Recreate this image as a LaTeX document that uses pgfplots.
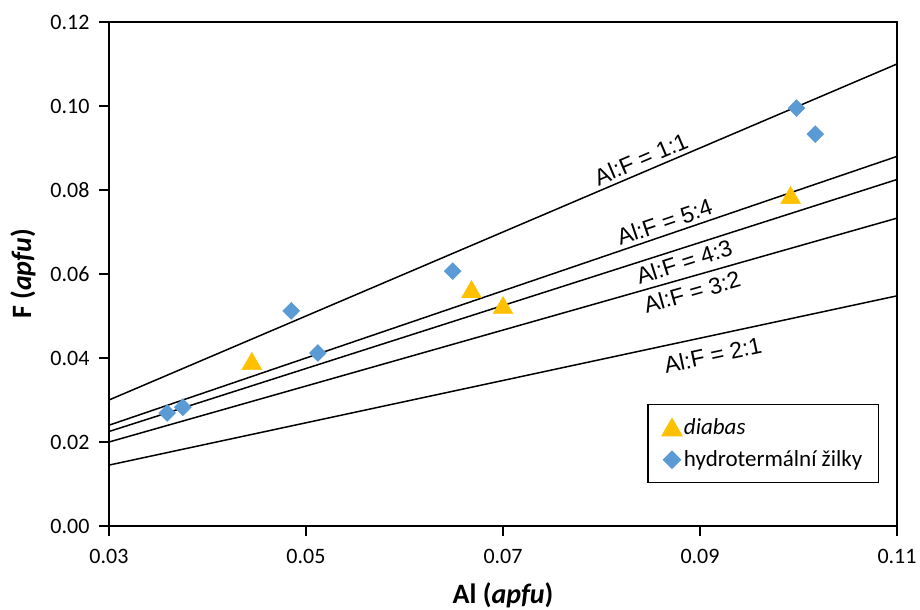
\documentclass[border=0pt]{standalone}
\usepackage{fontspec}
\setmainfont{Carlito}
\newfontfamily\arialfont{Liberation Sans}
\usepackage{pgfplots}
\pgfplotsset{compat=1.18}
\definecolor{diabas}{HTML}{FFC000}
\definecolor{zilky}{HTML}{5B9BD5}

\begin{document}
\begin{tikzpicture}
\begin{axis}[
  scale only axis,
  width=788pt, height=504pt,
  xmin=0.03, xmax=0.11, ymin=0, ymax=0.12,
  xtick={0.03,0.05,0.07,0.09,0.11},
  ytick={0,0.02,0.04,0.06,0.08,0.10,0.12},
  scaled ticks=false,
  tick label style={font=\fontsize{22}{26}\selectfont,
    /pgf/number format/fixed, /pgf/number format/fixed zerofill,
    /pgf/number format/precision=2, /pgf/number format/assume math mode=true},
  xticklabel style={yshift=-10pt},
  yticklabel style={xshift=-6pt},
  tick align=outside, tick pos=left,
  major tick length=10pt,
  tick style={line width=1.5pt, black},
  axis line style={line width=2pt},
  xlabel={\textbf{Al (\textit{apfu})}},
  ylabel={\textbf{F (\textit{apfu})}},
  label style={font=\fontsize{28}{32}\selectfont},
  xlabel style={yshift=-12pt},
  ylabel style={yshift=8pt},
  legend style={at={(0.977,0.0853)}, anchor=south east,
    font=\fontsize{23}{27}\selectfont, draw=black, line width=1.2pt,
    inner xsep=14pt, inner ysep=12pt, row sep=11pt,
    /tikz/every even column/.append style={column sep=4pt}},
  legend cell align=left,
]
\addplot[only marks, mark=triangle*, mark size=11.5pt,
  mark options={fill=diabas, draw=diabas, yshift=-2.9pt}] coordinates {
  (0.0445,0.0393) (0.0668,0.0564) (0.0700,0.0526) (0.0992,0.0788)
};
\addlegendentry{\textit{diabas}}

\addplot[only marks, mark=square*, mark size=6pt,
  mark options={fill=zilky, draw=zilky, rotate=45}] coordinates {
  (0.0359,0.0269) (0.0375,0.0283) (0.0485,0.0512) (0.0512,0.0412)
  (0.0649,0.0607) (0.0998,0.0995) (0.1017,0.0933)
};
\addlegendentry{hydrotermální žilky}

% ratio lines Al:F
\addplot[black, line width=1.5pt, forget plot] coordinates {(0.03,0.03) (0.11,0.11)};
\addplot[black, line width=1.5pt, forget plot] coordinates {(0.03,0.024) (0.11,0.088)};
\addplot[black, line width=1.5pt, forget plot] coordinates {(0.03,0.0225) (0.11,0.0825)};
\addplot[black, line width=1.5pt, forget plot] coordinates {(0.03,0.02) (0.11,0.0733)};
\addplot[black, line width=1.5pt, forget plot] coordinates {(0.03,0.0145) (0.11,0.0548)};

\node[font=\arialfont\fontsize{23}{27}\selectfont, rotate=23.1, inner sep=0pt] at (axis cs:0.0840,0.0874) {Al:F = 1:1};
\node[font=\arialfont\fontsize{23}{27}\selectfont, rotate=18.8, inner sep=0pt] at (axis cs:0.0864,0.0724) {Al:F = 5:4};
\node[font=\arialfont\fontsize{23}{27}\selectfont, rotate=17.7, inner sep=0pt] at (axis cs:0.0884,0.0629) {Al:F = 4:3};
\node[font=\arialfont\fontsize{23}{27}\selectfont, rotate=15.9, inner sep=0pt] at (axis cs:0.0892,0.0557) {Al:F = 3:2};
\node[font=\arialfont\fontsize{23}{27}\selectfont, rotate=12.0, inner sep=0pt] at (axis cs:0.0913,0.0407) {Al:F = 2:1};
\end{axis}
\pgfresetboundingbox
\path ([xshift=-109pt,yshift=-83pt]current axis.south west) rectangle ([xshift=23pt,yshift=22pt]current axis.north east);
\end{tikzpicture}
\end{document}
